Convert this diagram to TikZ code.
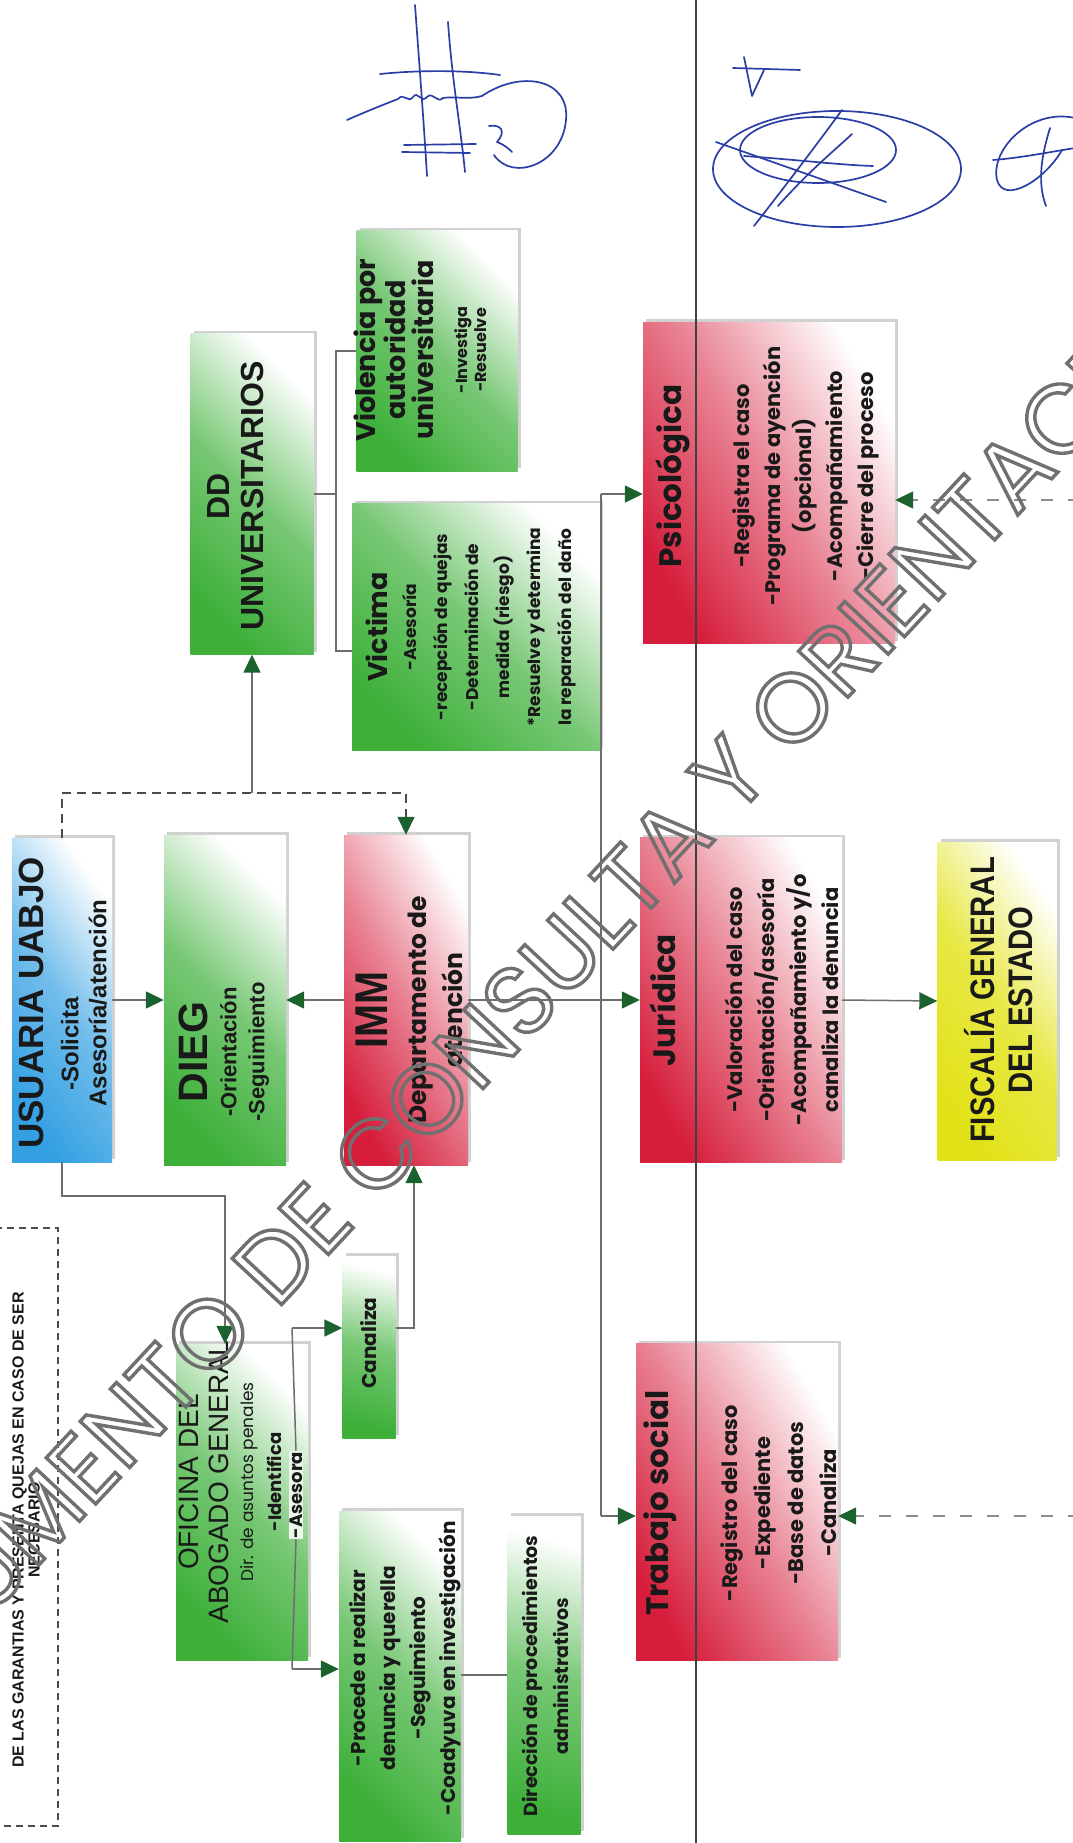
\documentclass[tikz,border=0pt]{standalone}
\usepackage{fontspec}
\setmainfont{Poppins}
\newfontfamily\arl{Liberation Sans}
\newfontfamily\arlN{Liberation Sans}[FakeStretch=0.86]
\usetikzlibrary{arrows.meta,shadows,calc}
\newcommand\fsz[2]{\fontsize{#1}{#2}\selectfont}
\newcommand\wmOn{\special{pdf:literal direct 1 Tr 3.4 w}}
\newcommand\wmOff{\special{pdf:literal direct 0 Tr}}
\definecolor{cG}{RGB}{62,176,58}
\definecolor{cR}{RGB}{214,30,60}
\definecolor{cB}{RGB}{52,160,226}
\definecolor{cY}{RGB}{226,226,24}
\definecolor{cArr}{RGB}{28,98,46}
\definecolor{cLine}{RGB}{110,110,110}
\definecolor{cSig}{RGB}{42,62,165}
\definecolor{cWm}{RGB}{112,112,112}
\tikzset{
  boxbase/.style={rectangle, inner sep=0pt, drop shadow={shadow xshift=3pt, shadow yshift=3pt, opacity=0.18, fill=black}},
  gbox/.style={boxbase, top color=cG, bottom color=white, middle color=cG!70!white, shading angle=135},
  gvbox/.style={boxbase, top color=cG, bottom color=white, middle color=cG!70!white, shading angle=165},
  rbox/.style={boxbase, top color=cR, bottom color=white, middle color=cR!55!white, shading angle=120},
  bbox/.style={boxbase, top color=cB, bottom color=white, middle color=cB!70!white, shading angle=125},
  ybox/.style={boxbase, top color=cY, bottom color=white, middle color=cY!80!white, shading angle=125},
  txt/.style={rotate=90, align=center, inner sep=0pt, text=black!90},
  link/.style={draw=cLine, line width=1.5pt},
  tip/.style={-{Triangle[length=18pt,width=17pt,color=cArr]}},
  conn/.style={link, tip},
  dconn/.style={draw=black!70, line width=1.6pt, dash pattern=on 9pt off 6pt, tip},
  rdash/.style={draw=black!45, line width=1.4pt, dash pattern=on 12pt off 15pt, tip},
  sig/.style={draw=cSig, line width=1.7pt, line cap=round, line join=round},
  wmark/.style={rotate=47, text=cWm, font=\fsz{97}{97}, inner sep=0pt},
}
\begin{document}
\begin{tikzpicture}[x=1pt,y=-1pt]
\useasboundingbox (0,0) rectangle (1072,1843);
\fill[white] (0,0) rectangle (1072,1843);

% boxes
\node[bbox, minimum width=100pt, minimum height=324pt] (usuaria) at (62,1000) {};
\node[gbox, minimum width=122pt, minimum height=330pt] (dieg) at (225,1000) {};
\node[rbox, minimum width=124pt, minimum height=330pt] (imm) at (406,1000) {};
\node[gbox, minimum width=123pt, minimum height=321pt] (dd) at (252,494) {};
\node[gbox, minimum width=161pt, minimum height=240pt] (viol) at (437,351) {};
\node[gbox, minimum width=248pt, minimum height=247pt] (vict) at (476,627) {};
\node[rbox, minimum width=252pt, minimum height=321pt] (psic) at (769,483) {};
\node[rbox, minimum width=202pt, minimum height=325pt] (jur) at (741,1000) {};
\node[ybox, minimum width=119pt, minimum height=318pt] (fisc) at (997,1001) {};
\node[rbox, minimum width=202pt, minimum height=317pt] (trab) at (737,1502) {};
\node[gbox, minimum width=132pt, minimum height=316pt] (ofic) at (242,1502) {};
\node[gvbox, minimum width=53pt, minimum height=182pt] (canal) at (369,1347) {};
\node[gbox, minimum width=122pt, minimum height=330pt] (proc) at (400,1676) {};
\node[gvbox, minimum width=73pt, minimum height=318pt] (dir) at (544,1675) {};

% dashed note box (cut by page edge)
\draw[draw=black!70, line width=1.3pt, dash pattern=on 7pt off 5pt] (-10,1228) rectangle (58,1826);

% coordinates
\coordinate (ddjoin) at (252,793);
\coordinate (brkT) at (336,351);
\coordinate (brkB) at (336,651);
\coordinate (uoJ) at (225,1196);
\coordinate (aTop) at (292,1328);
\coordinate (aBot) at (292,1669);
\coordinate (cOut) at (414,1328);
\coordinate (bTop) at (601,494);
\coordinate (bBot) at (601,1516);
\coordinate (psR) at (1080,500);
\coordinate (trR) at (1080,1516);
\coordinate (pdY) at (480,1675);

% text
\node[txt, font=\arl\bfseries\fsz{24}{28}] (usuariaT) at (63,1003)
  {{\fsz{35}{35}USUARIA UABJO}\\[7pt]\makebox[175pt][l]{-Solicita}\\Asesoría/atención};
\node[txt, font=\arl\bfseries\fsz{22}{28}] (diegT) at (224,1052)
  {{\fsz{41}{41}DIEG}\\[1pt]-Orientación\\-Seguimiento};
\node[txt, font=\bfseries\fsz{25}{36}] (immT) at (409,1010)
  {{\arlN\fsz{46}{46}IMM}\\[3pt]Departamento de\\atención};
\node[txt, font=\arl\bfseries\fsz{32}{34}] (ddT) at (236,496) {DD\\UNIVERSITARIOS};
\node[txt, font=\bfseries\fsz{27}{28}] (violT) at (420,350)
  {Violencia por\\autoridad\\universitaria\\[6pt]{\fsz{16}{16}-Investiga}\\[-9pt]{\fsz{16}{16}-Resuelve}};
\node[txt, font=\bfseries\fsz{17}{31}] (victT) at (471,627)
  {{\fsz{27}{27}Victima}\\[-2pt]-Asesoría\\-recepción de quejas\\-Determinación de\\medida (riesgo)\\{*}Resuelve y determina\\la reparación del daño};
\node[txt, font=\bfseries\fsz{21}{31}] (psicT) at (767,476)
  {{\fsz{31}{31}Psicológica}\\[37pt]-Registra el caso\\-Programa de ayención\\(opcional)\\-Acompañamiento\\-Cierre del proceso};
\node[txt, font=\bfseries\fsz{21}{32}] (jurT) at (744,1000)
  {{\fsz{31}{31}Jurídica}\\[35pt]-Valoración del caso\\-Orientación/asesoría\\-Acompañamiento y/o\\canaliza la denuncia};
\node[txt, font=\arlN\bfseries\fsz{34}{38}] (fiscT) at (999,1000) {FISCALÍA GENERAL\\DEL ESTADO};
\node[txt, font=\bfseries\fsz{21}{33}] (trabT) at (740,1503)
  {{\fsz{31}{31}Trabajo social}\\[36pt]-Registro del caso\\-Expediente\\-Base de datos\\-Canaliza};
\node[txt, font=\arl\fsz{28}{30}] (oficT) at (230,1482)
  {OFICINA DEL\\ABOGADO GENERAL\\[-5pt]{\rmfamily\fsz{17}{17}Dir. de asuntos penales}\\[-2pt]{\rmfamily\bfseries\fsz{18}{18}-Identifica}};
\node[txt, font=\bfseries\fsz{18}{18}, fill=white!90!cG, inner sep=1pt] (asesora) at (296,1495) {-Asesora};
\node[txt, font=\bfseries\fsz{20}{20}] (canalT) at (369,1343) {Canaliza};
\node[txt, font=\bfseries\fsz{20}{30}] (procT) at (405,1668)
  {-Procede a realizar\\denuncia y querella\\-Seguimiento\\-Coadyuva en investigación};
\node[txt, font=\bfseries\fsz{19}{31}] (dirT) at (545,1676) {Dirección de procedimientos\\administrativos};
\node[txt, font=\arl\bfseries\fsz{16}{16}] (garT) at (26,1530) {DE LAS GARANTIAS Y PRESENTA QUEJAS EN CASO DE SER\\NECESARIO};

% connectors
\draw[conn] (usuaria.east) -- (dieg.west);
\draw[conn] (imm.west) -- (dieg.east);
\draw[conn] (imm.east) -- (jur.west);
\draw[conn] (jur.east) -- (fisc.west);
\draw[dconn] (usuaria.north) |- (ddjoin) -| (imm.north);
\draw[conn] (ddjoin) -- (dd.south);
\draw[link] (dd.east) -- (dd.east -| brkT);
\draw[link] (viol.west) -- (brkT) -- (brkB) -- (brkB -| vict.west);
\draw[conn] (usuaria.south) |- (uoJ) -- (uoJ |- ofic.north);
\draw[conn] (aTop) -- (aTop -| canal.west);
\draw[conn] (aBot) -- (aBot -| proc.west);
\draw[link] (aTop) -- (asesora.east);
\draw[link] (asesora.west) -- (aBot);
\draw[conn] (canal.east |- cOut) -- (cOut) -- (cOut |- imm.south);
\draw[link] (bTop) -- (bBot);
\draw[conn] (bTop) -- (bTop -| psic.west);
\draw[conn] (bBot) -- (bBot -| trab.west);
\draw[rdash] (psR) -- (psR -| psic.east);
\draw[rdash] (trR) -- (trR -| trab.east);
\draw[link] (pdY -| proc.east) -- (pdY -| dir.west);

% scan fold line
\draw[line width=1.2pt, black!75] (696,0) -- (696,1843);

% watermark
\node[wmark] (wm) at (500,1005) {\wmOn DOCUMENTO DE CONSULTA Y ORIENTACIÓN\wmOff};

% signatures
\draw[sig] (415,5) .. controls (419,60) and (424,125) .. (427,176);
\draw[sig] (448,22) .. controls (452,80) and (461,130) .. (465,172);
\draw[sig] (380,74) .. controls (420,70) and (465,70) .. (500,75);
\draw[sig] (404,145) -- (476,144);
\draw[sig] (402,152) -- (470,153);
\draw[sig] (347,120) .. controls (365,112) and (385,104) .. (398,99) .. controls (404,92) and (408,104) .. (413,97) .. controls (418,90) and (421,104) .. (427,97) .. controls (433,91) and (437,104) .. (443,98) .. controls (455,96) and (468,100) .. (482,96);
\draw[sig] (482,96) .. controls (520,70) and (570,78) .. (566,120) .. controls (562,165) and (512,182) .. (494,155);
\draw[sig] (489,126) .. controls (502,124) and (506,132) .. (497,142) .. controls (505,145) and (510,150) .. (512,152);
\draw[sig] (837,169) ellipse [x radius=124, y radius=58];
\draw[sig] (818,150) ellipse [x radius=78, y radius=33];
\draw[sig] (716,142) -- (886,202);
\draw[sig] (744,156) .. controls (800,160) and (840,165) .. (873,166);
\draw[sig] (754,226) .. controls (790,180) and (820,140) .. (842,110);
\draw[sig] (778,206) .. controls (810,170) and (835,150) .. (852,134);
\draw[sig] (733,68) -- (800,70);
\draw[sig] (744,57) -- (752,96) -- (764,70);
\draw[sig] (1075,118) .. controls (1030,108) and (990,150) .. (997,180) .. controls (1004,205) and (1045,180) .. (1062,150);
\draw[sig] (993,160) .. controls (1020,158) and (1050,152) .. (1075,148);
\draw[sig] (1050,128) .. controls (1040,160) and (1038,185) .. (1046,206);
\end{tikzpicture}
\end{document}
